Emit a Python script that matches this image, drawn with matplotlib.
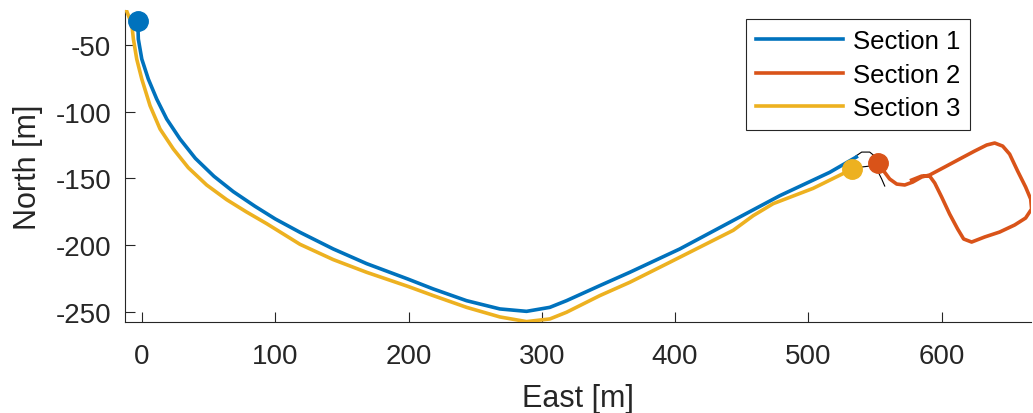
import matplotlib
matplotlib.use("Agg")
import matplotlib.pyplot as plt

plt.rcParams['font.family'] = ['Liberation Sans', 'DejaVu Sans']

# Section 1 (blue)
s1_east = [-3.2, -2.8, -0.2, 4.7, 11, 18.5, 28.5, 40, 54, 68.5, 84.8, 100, 118.5, 143.5, 168.5, 199.3,
           218.5, 243.5, 268.5, 288.5, 306, 318.5, 343.5, 366, 403.5, 441, 478.6, 516, 536]
s1_north = [-32.2, -45.5, -60.5, -75.5, -90.5, -105.5, -120.5, -135, -148.5, -160, -171, -180.5, -190.5,
            -203, -214, -225.5, -233, -241.8, -248, -249.8, -246.8, -241.8, -230.5, -220.5, -203, -183,
            -163, -145.5, -134]

# Section 2 (red)
s2_east = [552.0, 556.5, 561.0, 566.3, 572.3, 578.3, 585.0, 591.0, 602.3, 613.5, 624.8, 633.8,
           639.8, 645.8, 651.0, 657.0, 663.0, 666.8, 667.5, 663.0, 654.8, 643.5, 632.3, 622.5,
           616.5, 612.0, 606.0, 600.0, 594.8, 591.0, 585.0, 577.5]
s2_north = [-138.5, -144.5, -150.5, -154.3, -155.0, -152.8, -149.0, -147.5, -141.5, -135.5, -129.5, -125.0,
            -123.5, -125.8, -131.8, -144.5, -156.5, -165.5, -173.0, -179.8, -185.0, -190.3, -194.0, -197.8,
            -195.5, -188.0, -176.8, -164.0, -153.5, -148.3, -148.3, -151.3]

# Section 3 (yellow)
s3_east = [-12.5, -7.7, -6.5, -4, -0.2, 6, 13.5, 23.5, 34.7, 48.5, 63.5, 78, 93.5, 118.5, 143.5, 168.5,
           199.3, 218.5, 243.5, 268.5, 288.5, 306, 318.5, 343.5, 366, 396, 443.6, 458.6, 473.6, 503.6, 533]
s3_north = [-22, -34.3, -45.5, -60.5, -75.5, -95.5, -113, -128, -142, -155, -166, -175, -184, -199.5,
            -211, -220.5, -231, -238, -246.8, -254, -257.5, -255.5, -250.5, -238, -228, -213, -189, -178,
            -169, -157.5, -143]

# thin black connector curves
c1_east = [535.6, 540, 546, 550.6]
c1_north = [-133.3, -130.3, -130.3, -134]
c2_east = [540, 546, 552, 555, 557.3]
c2_north = [-141.5, -140.8, -144.5, -150.5, -155.8]

labels = ['Section 1', 'Section 2', 'Section 3']
colors = ['#0072BD', '#D95319', '#EDB120']
xticks = [0, 100, 200, 300, 400, 500, 600]
yticks = [-250, -200, -150, -100, -50]

fig = plt.figure(figsize=(10.33, 4.14), dpi=100)
ax = fig.add_axes([0.1210, 0.2198, 0.877, 0.7536])

lw = 2.6
ax.plot(c1_east, c1_north, color='black', lw=0.8, zorder=2)
ax.plot(c2_east, c2_north, color='black', lw=0.8, zorder=2)
l1, = ax.plot(s1_east, s1_north, color=colors[0], lw=lw, label=labels[0], zorder=3)
l2, = ax.plot(s2_east, s2_north, color=colors[1], lw=lw, label=labels[1], zorder=3)
l3, = ax.plot(s3_east, s3_north, color=colors[2], lw=lw, label=labels[2], zorder=3)
ax.plot(s1_east[0], s1_north[0], 'o', color=colors[0], ms=14, zorder=5)
ax.plot(s2_east[0], s2_north[0], 'o', color=colors[1], ms=14, zorder=5)
ax.plot(s3_east[-1], s3_north[-1], 'o', color=colors[2], ms=14, zorder=5)

ax.set_xlim(-12.8, 667)
ax.set_ylim(-257.8, -23.7)
ax.set_xticks(xticks)
ax.set_yticks(yticks)
ax.set_xticklabels([str(v) for v in xticks])
ax.set_yticklabels([str(v) for v in yticks])

axcol = '#262626'
for s in ['top', 'right']:
    ax.spines[s].set_visible(False)
for s in ['left', 'bottom']:
    ax.spines[s].set_color(axcol)
    ax.spines[s].set_linewidth(0.8)
ax.tick_params(direction='in', length=7, width=0.8, colors=axcol, labelsize=20)
ax.tick_params(axis='x', pad=15)
ax.tick_params(axis='y', pad=10)
ax.set_xlabel('East [m]', fontsize=22, color=axcol)
ax.set_ylabel('North [m]', fontsize=22, color=axcol)
ax.xaxis.set_label_coords(0.5, -0.195)
ax.yaxis.set_label_coords(-0.0905, 0.5)

leg = ax.legend(handles=[l1, l2, l3], loc='upper right',
                bbox_to_anchor=(970 / 1033, 1 - 20 / 414), bbox_transform=fig.transFigure,
                borderaxespad=0, fontsize=18.5, handlelength=3.37, labelspacing=0.38,
                fancybox=False, framealpha=1, edgecolor=axcol, borderpad=0.38,
                handletextpad=0.4)
leg.get_frame().set_linewidth(0.8)
for t in leg.get_texts():
    t.set_color('black')

fig.savefig('out.png', dpi=100)
